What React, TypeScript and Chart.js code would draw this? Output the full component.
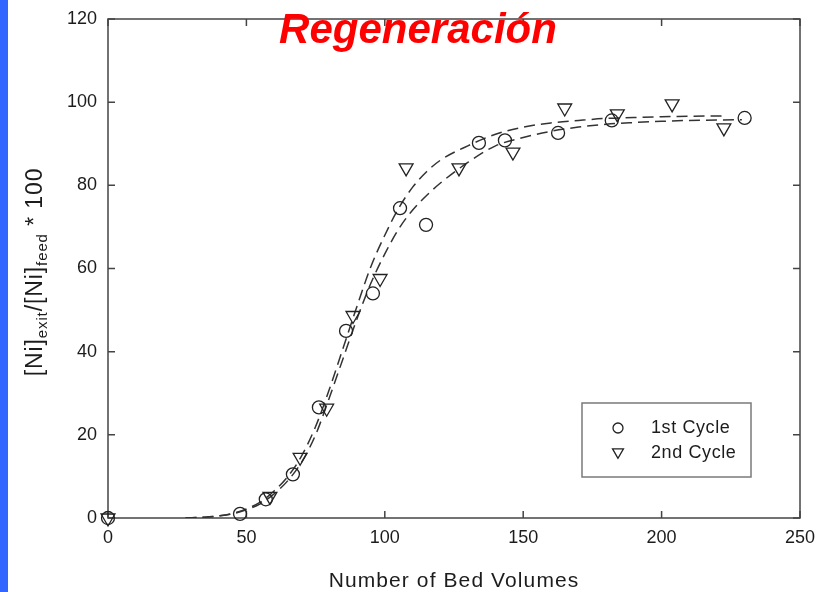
import React, { useEffect, useRef } from "react";
import { Chart, registerables } from "chart.js";

Chart.register(...registerables);

const chartTitle = "Regeneración";
const xAxisTitle = "Number of Bed Volumes";
const seriesLabels = ["1st Cycle", "2nd Cycle"];

const xTickValues = [0, 50, 100, 150, 200, 250];
const yTickValues = [0, 20, 40, 60, 80, 100, 120];

const cycle1X = [0, 47.7, 57, 66.8, 76.2, 86, 95.7, 105.5, 114.9, 134, 143.4, 162.6, 182, 230];
const cycle1Y = [0, 1, 4.5, 10.5, 26.6, 45, 54, 74.5, 70.5, 90.2, 90.8, 92.6, 95.6, 96.2];

const cycle2X = [0, 58.5, 69.4, 79, 88.5, 98.3, 107.7, 126.8, 146.3, 165, 184, 203.8, 222.5];
const cycle2Y = [0, 5.2, 14.6, 26.4, 48.7, 57.6, 84.2, 84.2, 88, 98.6, 97.2, 99.6, 93.8];

const fitAX = [28, 35, 40, 45, 50, 55, 60, 65, 70, 75, 80, 85, 90, 95, 100, 105, 110, 115, 120, 130, 140, 150, 160, 170, 180, 190, 200, 210, 222];
const fitAY = [0, 0.2, 0.5, 1.1, 2.2, 3.8, 6.5, 10, 15, 22, 31, 41, 51, 60.5, 68, 74.5, 79.5, 83.2, 86, 89.5, 92.3, 94, 95, 95.6, 96.1, 96.3, 96.5, 96.6, 96.7];

const fitBX = [28, 35, 40, 45, 50, 55, 60, 65, 70, 75, 80, 85, 90, 95, 100, 105, 110, 115, 120, 130, 140, 150, 160, 170, 180, 190, 200, 210, 220, 229];
const fitBY = [0, 0.2, 0.5, 1, 2, 3.4, 5.8, 9, 13.5, 20, 29, 38.5, 48, 56.5, 63.5, 69.5, 74, 77.5, 80.5, 85.5, 89.5, 91.5, 93, 94, 94.7, 95.1, 95.4, 95.6, 95.7, 95.8];

const FONT = "'Liberation Sans', Arial, Helvetica, sans-serif";
const INK = "#1c1c1c";
const FRAME = "#444444";

const toPoints = (xs: number[], ys: number[]) => xs.map((x, i) => ({ x, y: ys[i] }));

const decorPlugin = {
  id: "decor",
  beforeDraw(chart: any) {
    const ctx = chart.ctx;
    ctx.save();
    ctx.fillStyle = "#ffffff";
    ctx.fillRect(0, 0, chart.width, chart.height);
    ctx.fillStyle = "#3366ff";
    ctx.fillRect(0, 0, 8, chart.height);
    ctx.restore();
  },
  beforeDatasetsDraw(chart: any) {
    const { ctx, chartArea: a, scales } = chart;
    ctx.save();
    ctx.strokeStyle = FRAME;
    ctx.lineWidth = 1.5;
    ctx.strokeRect(a.left, a.top, a.right - a.left, a.bottom - a.top);
    const tl = 7;
    ctx.beginPath();
    scales.x.ticks.forEach((t: any) => {
      const px = scales.x.getPixelForValue(t.value);
      ctx.moveTo(px, a.bottom);
      ctx.lineTo(px, a.bottom - tl);
      ctx.moveTo(px, a.top);
      ctx.lineTo(px, a.top + tl);
    });
    scales.y.ticks.forEach((t: any) => {
      const py = scales.y.getPixelForValue(t.value);
      ctx.moveTo(a.left, py);
      ctx.lineTo(a.left + tl, py);
      ctx.moveTo(a.right, py);
      ctx.lineTo(a.right - tl, py);
    });
    ctx.stroke();
    ctx.restore();
  },
  afterDraw(chart: any) {
    const { ctx, chartArea: a } = chart;
    ctx.save();

    // x axis title
    ctx.fillStyle = INK;
    ctx.font = `21px ${FONT}`;
    (ctx as any).letterSpacing = "1.1px";
    ctx.textAlign = "center";
    ctx.textBaseline = "alphabetic";
    ctx.fillText(xAxisTitle, (a.left + a.right) / 2, 587);
    (ctx as any).letterSpacing = "0px";

    // y axis title with subscripts
    const big = `23px ${FONT}`;
    const small = `15px ${FONT}`;
    const parts: [string, string, number][] = [
      ["[Ni]", big, 0],
      ["exit", small, 5],
      ["/[Ni]", big, 0],
      ["feed", small, 5],
      [" * 100", big, 0],
    ];
    (ctx as any).letterSpacing = "0.9px";
    let total = 0;
    parts.forEach(([t, f]) => {
      ctx.font = f;
      total += ctx.measureText(t).width;
    });
    ctx.translate(34, 272);
    ctx.rotate(-Math.PI / 2);
    ctx.textAlign = "left";
    let cx = -total / 2;
    parts.forEach(([t, f, dy]) => {
      ctx.font = f;
      ctx.fillText(t, cx, 8 + dy);
      cx += ctx.measureText(t).width;
    });
    ctx.setTransform(1, 0, 0, 1, 0, 0);
    (ctx as any).letterSpacing = "0px";

    // legend
    const bx = 582, by = 403, bw = 169, bh = 74;
    ctx.strokeStyle = "#7a7a7a";
    ctx.lineWidth = 1.5;
    ctx.strokeRect(bx, by, bw, bh);
    ctx.strokeStyle = "#222";
    ctx.lineWidth = 1.3;
    ctx.beginPath();
    ctx.arc(618, 428, 5, 0, Math.PI * 2);
    ctx.stroke();
    const r = 6.3;
    ctx.beginPath();
    for (let k = 0; k < 3; k++) {
      const ang = Math.PI + (k * 2 * Math.PI) / 3;
      const px = 618 + Math.sin(ang) * r;
      const py = 452 - Math.cos(ang) * r;
      if (k === 0) ctx.moveTo(px, py);
      else ctx.lineTo(px, py);
    }
    ctx.closePath();
    ctx.stroke();
    ctx.fillStyle = INK;
    ctx.font = `18px ${FONT}`;
    (ctx as any).letterSpacing = "0.6px";
    ctx.textAlign = "left";
    ctx.textBaseline = "middle";
    ctx.fillText(seriesLabels[0], 651, 428);
    ctx.fillText(seriesLabels[1], 651, 453);
    (ctx as any).letterSpacing = "0px";

    // title
    ctx.fillStyle = "#ff0000";
    ctx.font = `italic bold 42px ${FONT}`;
    ctx.textAlign = "center";
    ctx.textBaseline = "alphabetic";
    ctx.fillText(chartTitle, 418, 43);

    ctx.restore();
  },
};

export default function App() {
  const canvasRef = useRef<HTMLCanvasElement | null>(null);

  useEffect(() => {
    const canvas = canvasRef.current;
    if (!canvas) return;
    const chart = new Chart(canvas, {
      type: "scatter",
      data: {
        datasets: [
          {
            label: seriesLabels[0],
            data: toPoints(cycle1X, cycle1Y),
            pointStyle: "circle",
            pointRadius: 6.5,
            pointBorderWidth: 1.3,
            pointBorderColor: "#222",
            pointBackgroundColor: "rgba(0,0,0,0)",
            showLine: false,
            clip: false,
            order: 1,
          },
          {
            label: seriesLabels[1],
            data: toPoints(cycle2X, cycle2Y),
            pointStyle: "triangle",
            pointRotation: 180,
            pointRadius: 8,
            pointBorderWidth: 1.3,
            pointBorderColor: "#222",
            pointBackgroundColor: "rgba(0,0,0,0)",
            showLine: false,
            clip: false,
            order: 1,
          },
          {
            label: "fit1",
            data: toPoints(fitAX, fitAY),
            showLine: true,
            borderColor: "#333",
            borderWidth: 1.5,
            borderDash: [11, 6],
            pointRadius: 0,
            cubicInterpolationMode: "monotone",
            order: 2,
          },
          {
            label: "fit2",
            data: toPoints(fitBX, fitBY),
            showLine: true,
            borderColor: "#333",
            borderWidth: 1.5,
            borderDash: [11, 6],
            pointRadius: 0,
            cubicInterpolationMode: "monotone",
            order: 2,
          },
        ],
      } as any,
      options: {
        animation: false,
        responsive: false,
        devicePixelRatio: 1,
        layout: { padding: { left: 0, top: 19, right: 19, bottom: 0 } },
        plugins: {
          legend: { display: false },
          title: { display: false },
          tooltip: { enabled: false },
        },
        scales: {
          x: {
            type: "linear",
            min: 0,
            max: 250,
            afterBuildTicks: (s: any) => {
              s.ticks = xTickValues.map((v) => ({ value: v }));
            },
            afterFit: (s: any) => {
              s.height = 74;
              s.paddingLeft = 0;
              s.paddingRight = 0;
            },
            grid: { display: false, drawTicks: false },
            border: { display: false },
            ticks: {
              padding: 9,
              color: INK,
              font: { family: FONT, size: 18 },
              maxRotation: 0,
            },
          },
          y: {
            type: "linear",
            min: 0,
            max: 120,
            afterBuildTicks: (s: any) => {
              s.ticks = yTickValues.map((v) => ({ value: v }));
            },
            afterFit: (s: any) => {
              s.width = 108;
              s.paddingTop = 0;
              s.paddingBottom = 0;
            },
            grid: { display: false, drawTicks: false },
            border: { display: false },
            ticks: {
              padding: 11,
              color: INK,
              font: { family: FONT, size: 18 },
            },
          },
        },
      } as any,
      plugins: [decorPlugin],
    });
    return () => chart.destroy();
  }, []);

  return (
    <div style={{ position: "fixed", left: 0, top: 0, width: 819, height: 592, background: "#fff" }}>
      <canvas ref={canvasRef} width={819} height={592} style={{ display: "block", width: 819, height: 592 }} />
    </div>
  );
}
